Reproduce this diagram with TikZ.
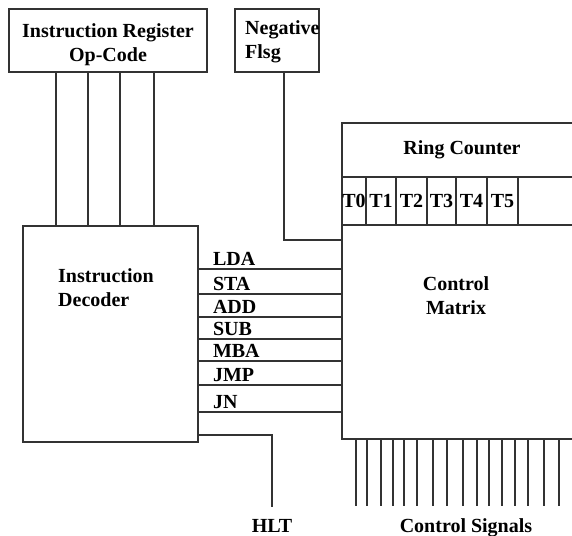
\documentclass[tikz,border=0pt]{standalone}
\usepackage{fontspec}
\setmainfont{Liberation Serif}
\usetikzlibrary{positioning,calc}
\definecolor{ink}{HTML}{333333}
\tikzset{
  blk/.style={rectangle,draw=ink,line width=1.6pt,inner sep=0pt},
  lbl/.style={font=\bfseries\fontsize{20}{24}\selectfont,inner sep=0pt,text=black},
  wire/.style={draw=ink,line width=1.6pt},
}

\begin{document}
\begin{tikzpicture}[x=1pt,y=-1pt]
  \useasboundingbox (0,0) rectangle (572,535);
  \clip (0,0) rectangle (572,535);
  % blocks
  \node[blk,minimum width=198pt,minimum height=63pt] (ir) at (108,40.5) {};
  \node[lbl,align=center,anchor=north] (irtxt) at (108,23) {Instruction Register\\Op-Code};
  \node[blk,minimum width=84pt,minimum height=63pt] (neg) at (277,40.5) {};
  \node[lbl,align=left,anchor=north west] (negtxt) at (245,20) {Negative\\Flsg};
  \node[blk,minimum width=175pt,minimum height=216pt] (dec) at (110.5,334) {};
  \node[lbl,align=left,anchor=north west] (dectxt) at (58,268) {Instruction\\Decoder};
  \node[blk,minimum width=240pt,minimum height=54pt,lbl] (ring) at (462,150) {Ring Counter};
  \node[blk,minimum width=240pt,minimum height=214pt] (cm) at (462,332) {};
  \node[lbl,align=center,anchor=north] (cmtxt) at (456,276) {Control\\Matrix};
  % timing cells
  \foreach \n/\xa/\xb in {0/342/366,1/366/396,2/396/427,3/427/456,4/456/487,5/487/518}
    \node[blk,lbl,minimum width={(\xb-\xa)*1pt},minimum height=48pt] (t\n) at ({(\xa+\xb)/2},201) {T\n};
  \node[blk,minimum width=64pt,minimum height=48pt] (tx) at (550,201) {};
  % op-code bus
  \foreach \i/\x in {1/56,2/88,3/120,4/154} {
    \coordinate (b\i) at (\x,0);
    \draw[wire] (ir.south -| b\i) -- (dec.north -| b\i);
  }
  % negative flag
  \coordinate (nx) at (284,0);
  \coordinate (ny) at (0,240);
  \draw[wire] (neg.south -| nx) |- (ny -| cm.west);
  % decoder outputs
  \foreach \y/\op in {269/LDA,294/STA,317/ADD,339/SUB,361/MBA,385/JMP,412/JN} {
    \coordinate (r) at (0,\y);
    \draw[wire] (dec.east |- r) -- (cm.west |- r);
    \node[lbl,anchor=base west] (op\op) at ($(dec.east |- r)+(14,-4)$) {\op};
  }
  % halt
  \node[lbl,anchor=base] (hlt) at (272,532) {HLT};
  \coordinate (hy) at (0,435);
  \draw[wire] (dec.east |- hy) -| ([yshift=12pt]hlt.north);
  % control signals
  \node[lbl,anchor=base] (sigs) at (466,532) {Control Signals};
  \coordinate (sigtop) at ([yshift=12pt]sigs.north);
  \foreach \x in {356,367,381,393,404,417,433,447,463,477,489,502,515,528,544,559} {
    \coordinate (c) at (\x,0);
    \draw[wire] (cm.south -| c) -- (sigtop -| c);
  }
\end{tikzpicture}
\end{document}
